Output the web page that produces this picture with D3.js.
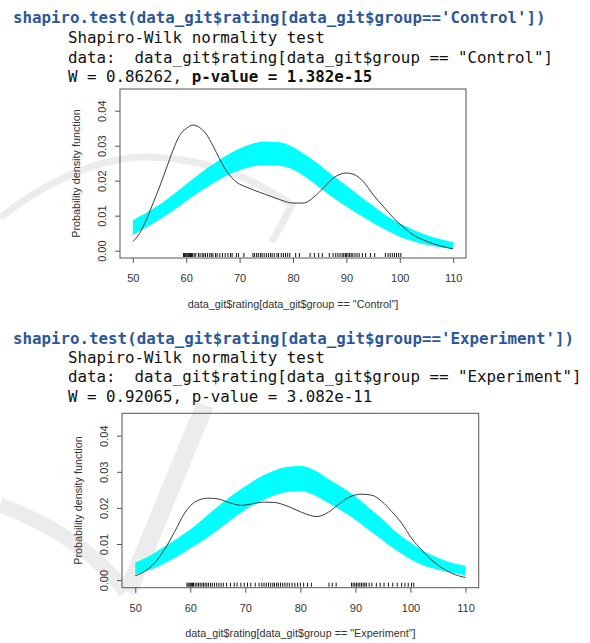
<!DOCTYPE html>
<html>
<head>
<meta charset="utf-8">
<script src="https://cdn.jsdelivr.net/npm/d3@7"></script>
<style>
  body { margin: 0; background: #fff; }
  svg { display: block; }
  .mono { font-family: "DejaVu Sans Mono", monospace; font-size: 15.8px; }
  .axis text { font-family: "Liberation Sans", Arial, sans-serif; font-size: 11px; fill: #333; }
  .axis line { stroke: #555; }
  .lab { font-family: "Liberation Sans", Arial, sans-serif; font-size: 10.8px; fill: #333; }
</style>
</head>
<body>
<script>
// ticks shared by both panels
var xTicks = [50, 60, 70, 80, 90, 100, 110];
var yTicks = [0, 0.01, 0.02, 0.03, 0.04];

// ---- Control group ----
var controlHeader = [
  "shapiro.test(data_git$rating[data_git$group=='Control'])",
  "Shapiro-Wilk normality test",
  "data:  data_git$rating[data_git$group == \"Control\"]",
  "W = 0.86262, ",
  "p-value = 1.382e-15"
];
var controlDensX = [50, 51.25, 52.5, 53.75, 55, 56.25, 57.5, 58.75, 60, 61.25, 62.5, 63.75, 65, 66.25, 67.5, 68.75, 70, 71.25, 72.5, 75, 77.5, 80, 82, 83.9, 85.75, 87.6, 90, 91.4, 93.25, 95.1, 97, 98.9, 100.75, 102.6, 104.5, 106.4, 108.25, 110];
var controlDensY = [0.0026, 0.0049, 0.0087, 0.0134, 0.0182, 0.0234, 0.0286, 0.0329, 0.0349, 0.0359, 0.0352, 0.0333, 0.0300, 0.0262, 0.0229, 0.0205, 0.0190, 0.0182, 0.0174, 0.0160, 0.0146, 0.0136, 0.0136, 0.0153, 0.0180, 0.0208, 0.0222, 0.0218, 0.0196, 0.0158, 0.0125, 0.0092, 0.0066, 0.0044, 0.0030, 0.0019, 0.0011, 0.0005];
var bandX = [50, 52.5, 55, 57.5, 60, 62.5, 65, 67.5, 70, 72.5, 75, 77.5, 80, 82.5, 85, 87.5, 90, 92.5, 95, 97.5, 100, 102.5, 105, 107.5, 110];
var controlUpper = [0.0087, 0.0108, 0.0132, 0.0160, 0.0190, 0.0220, 0.0247, 0.0272, 0.0292, 0.0306, 0.0312, 0.0310, 0.0296, 0.0272, 0.0245, 0.0214, 0.0186, 0.0156, 0.0128, 0.0100, 0.0078, 0.0060, 0.0045, 0.0033, 0.0024];
var controlLower = [0.0045, 0.0066, 0.0089, 0.0114, 0.0142, 0.0168, 0.0192, 0.0214, 0.0230, 0.0241, 0.0245, 0.0243, 0.0232, 0.0208, 0.0180, 0.0152, 0.0126, 0.0102, 0.0079, 0.0058, 0.0040, 0.0027, 0.0017, 0.0010, 0.0005];
var controlRug = [59.5, 59.7, 59.9, 60.0, 60.2, 60.4, 60.6, 60.8, 61.0, 61.2, 61.5, 61.8, 62.3, 62.6, 63.0, 63.3, 63.6, 64.0, 64.4, 64.7, 65.0, 65.5, 65.8, 66.3, 66.8, 67.3, 67.8, 68.3, 68.6, 69.4, 69.8, 70.8, 72.5, 72.8, 73.2, 73.5, 73.9, 74.2, 74.6, 75.0, 75.4, 75.8, 76.1, 76.5, 77.0, 77.3, 77.8, 78.2, 78.6, 79.0, 79.4, 80.5, 81.2, 83.2, 84.0, 84.8, 85.5, 86.8, 87.5, 88.0, 88.4, 88.8, 89.2, 89.5, 89.8, 90.0, 90.3, 90.6, 90.9, 91.2, 91.6, 92.0, 92.4, 93.0, 93.6, 94.5, 95.3, 97.3, 97.8, 98.2, 98.6, 99.0, 99.4, 99.8, 100.2];

// ---- Experiment group ----
var experimentHeader = [
  "shapiro.test(data_git$rating[data_git$group=='Experiment'])",
  "Shapiro-Wilk normality test",
  "data:  data_git$rating[data_git$group == \"Experiment\"]",
  "W = 0.92065, ",
  "p-value = 3.082e-11"
];
var experimentDensX = [50, 51.7, 53.5, 55.3, 57.2, 59, 60.8, 63.2, 65, 66.8, 69.3, 71.1, 73.5, 75.3, 77.8, 80.2, 83, 85.1, 86.9, 88.75, 91.2, 93, 94.8, 96.6, 98.4, 100.2, 102, 103.8, 105.6, 107.5, 110];
var experimentDensY = [0.0012, 0.0024, 0.0047, 0.0084, 0.0135, 0.0186, 0.0216, 0.0227, 0.0225, 0.0216, 0.0207, 0.0211, 0.0216, 0.0215, 0.0204, 0.0188, 0.0176, 0.0188, 0.0209, 0.0229, 0.0238, 0.0235, 0.0218, 0.0190, 0.0158, 0.0116, 0.0084, 0.0056, 0.0035, 0.0019, 0.0007];
var experimentUpper = [0.0049, 0.0066, 0.0090, 0.0114, 0.0140, 0.0172, 0.0204, 0.0234, 0.0260, 0.0284, 0.0302, 0.0313, 0.0316, 0.0305, 0.0281, 0.0258, 0.0232, 0.0200, 0.0168, 0.0132, 0.0104, 0.0080, 0.0062, 0.0048, 0.0040];
var experimentLower = [0.0016, 0.0027, 0.0044, 0.0064, 0.0088, 0.0112, 0.0139, 0.0168, 0.0195, 0.0216, 0.0233, 0.0244, 0.0247, 0.0236, 0.0214, 0.0192, 0.0167, 0.0138, 0.0110, 0.0082, 0.0058, 0.0040, 0.0029, 0.0021, 0.0013];
var experimentRug = [59.4, 59.6, 59.8, 60.0, 60.2, 60.4, 60.6, 60.9, 61.2, 61.5, 61.8, 62.1, 62.4, 62.7, 63.0, 63.3, 63.7, 64.0, 64.4, 64.8, 65.2, 65.6, 66.0, 66.6, 67.3, 68.0, 68.5, 69.2, 69.8, 70.4, 71.0, 71.8, 72.5, 73.0, 73.4, 73.8, 74.2, 74.6, 75.0, 75.3, 75.7, 76.0, 76.4, 76.8, 77.2, 77.6, 78.0, 78.5, 79.0, 79.5, 80.0, 80.6, 81.3, 82.0, 85.2, 85.8, 86.5, 89.3, 89.6, 89.9, 90.2, 90.5, 90.8, 91.1, 91.4, 91.7, 92.0, 92.5, 93.0, 93.8, 94.5, 95.2, 96.0, 96.8, 97.6, 98.4, 99.0, 99.6, 100.2, 100.6];

// R pads the data range by 4%
var xDomain = [47.6, 112.4];
var yDomain = [-0.0021, 0.0462];

var svg = d3.select("body").append("svg")
  .attr("width", 590)
  .attr("height", 643);

// faint watermark strokes behind everything
var wm = svg.append("g").attr("fill", "none").attr("stroke", "#ececec");
wm.append("path").attr("stroke-width", 7)
  .attr("d", "M0,218 C40,186 90,160 140,157 C200,156 250,176 292,205 L272,242");
wm.append("path").attr("stroke-width", 18)
  .attr("d", "M205,405 L128,592");
wm.append("path").attr("stroke-width", 15)
  .attr("d", "M0,505 C40,520 90,545 126,592");

// keep the double spaces of the console output
function pre(s) { return s.replace(/ /g, "\u00a0"); }

function drawHeader(lines, base) {
  var g = svg.append("g").attr("class", "mono");
  g.append("text").attr("x", 13).attr("y", base[0])
    .attr("font-weight", "bold").attr("fill", "#2b5797")
    .text(pre(lines[0]));
  g.append("text").attr("x", 68).attr("y", base[1]).attr("fill", "#111").text(pre(lines[1]));
  g.append("text").attr("x", 68).attr("y", base[2]).attr("fill", "#111").text(pre(lines[2]));
  var w = g.append("text").attr("x", 68).attr("y", base[3]).attr("fill", "#111");
  w.append("tspan").text(pre(lines[3]));
  w.append("tspan").attr("font-weight", base[4] ? "bold" : "normal").text(pre(lines[4]));
}

function drawPanel(p) {
  var x = d3.scaleLinear().domain(xDomain).range([p.left, p.right]);
  var y = d3.scaleLinear().domain(yDomain).range([p.bottom, p.top]);
  var g = svg.append("g");

  // reference band of the normal model
  var band = bandX.map(function(v, i) { return {x: v, hi: p.upper[i], lo: p.lower[i]}; });
  g.append("path").datum(band)
    .attr("fill", "#00ffff")
    .attr("d", d3.area()
      .x(function(d) { return x(d.x); })
      .y0(function(d) { return y(d.lo); })
      .y1(function(d) { return y(d.hi); })
      .curve(d3.curveMonotoneX));

  // kernel density estimate
  var dens = p.densX.map(function(v, i) { return [v, p.densY[i]]; });
  g.append("path").datum(dens)
    .attr("fill", "none")
    .attr("stroke", "#3a3a3a")
    .attr("stroke-width", 1)
    .attr("d", d3.line()
      .x(function(d) { return x(d[0]); })
      .y(function(d) { return y(d[1]); })
      .curve(d3.curveMonotoneX));

  // rug
  g.selectAll(null).data(p.rug).enter().append("line")
    .attr("x1", function(d) { return x(d); })
    .attr("x2", function(d) { return x(d); })
    .attr("y1", p.bottom - 1)
    .attr("y2", p.bottom - 5)
    .attr("stroke", "#111")
    .attr("stroke-width", 1);

  g.append("rect")
    .attr("x", p.left).attr("y", p.top)
    .attr("width", p.right - p.left).attr("height", p.bottom - p.top)
    .attr("fill", "none").attr("stroke", "#555").attr("stroke-width", 1);

  // x axis
  g.append("g").attr("class", "axis")
    .attr("transform", "translate(0," + p.bottom + ")")
    .call(d3.axisBottom(x).tickValues(xTicks).tickSize(5))
    .call(function(a) { a.select(".domain").remove(); })
    .selectAll("text").attr("y", 24).attr("dy", null);

  // y axis, labels turned like R does
  g.append("g").attr("class", "axis")
    .attr("transform", "translate(" + p.left + ",0)")
    .call(d3.axisLeft(y).tickValues(yTicks).tickSize(5).tickFormat(d3.format(".2f")))
    .call(function(a) { a.select(".domain").remove(); })
    .selectAll("text")
      .attr("transform", "rotate(-90)")
      .attr("x", 0).attr("y", -14).attr("dy", null)
      .attr("text-anchor", "middle");

  g.append("text").attr("class", "lab")
    .attr("x", (p.left + p.right) / 2).attr("y", p.bottom + 49.5)
    .attr("text-anchor", "middle")
    .text(p.xlab);

  g.append("text").attr("class", "lab")
    .attr("transform", "translate(" + (p.left - 40) + "," + ((p.top + p.bottom) / 2) + ") rotate(-90)")
    .attr("text-anchor", "middle")
    .text("Probability density function");
}

drawHeader(controlHeader, [22.7, 43.3, 63.3, 81.7, true]);
drawHeader(experimentHeader, [344, 363.3, 382.3, 401.7, false]);

drawPanel({
  left: 120, right: 466, top: 89, bottom: 258,
  densX: controlDensX, densY: controlDensY,
  upper: controlUpper, lower: controlLower,
  rug: controlRug,
  xlab: "data_git$rating[data_git$group == \"Control\"]"
});

drawPanel({
  left: 122, right: 478.7, top: 413.3, bottom: 587.7,
  densX: experimentDensX, densY: experimentDensY,
  upper: experimentUpper, lower: experimentLower,
  rug: experimentRug,
  xlab: "data_git$rating[data_git$group == \"Experiment\"]"
});
</script>
</body>
</html>
